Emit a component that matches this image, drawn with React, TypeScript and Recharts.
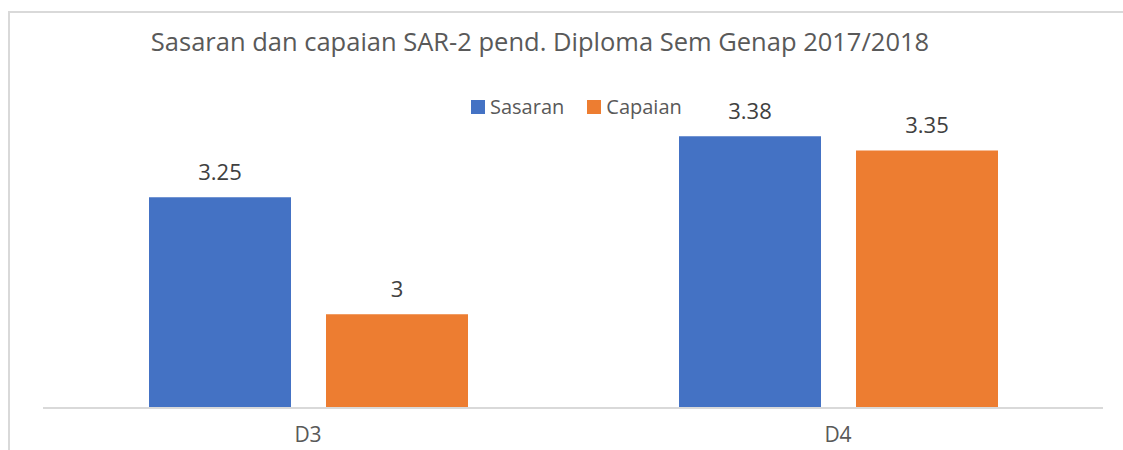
import { BarChart, Bar, XAxis, YAxis, LabelList } from 'recharts'

const categories = ['D3', 'D4']
const sasaran = [3.25, 3.38]
const capaian = [3, 3.35]

const data = categories.map((c, i) => ({ name: c, Sasaran: sasaran[i], Capaian: capaian[i] }))

const FONT = '"Open Sans", sans-serif'

const legendItems = [
  { label: 'Sasaran', color: '#4472C4' },
  { label: 'Capaian', color: '#ED7D31' },
]

export default function App() {
  return (
    <div style={{ position: 'absolute', left: 0, top: 0, width: 1123, height: 450, background: '#fff' }}>
      <div
        style={{
          position: 'absolute',
          left: 8,
          top: 11,
          width: 1115,
          height: 439,
          borderLeft: '2px solid #d9d9d9',
          borderTop: '2px solid #d9d9d9',
        }}
      />
      <div
        style={{
          position: 'absolute',
          left: 0,
          width: 1080,
          top: 24,
          textAlign: 'center',
          fontFamily: FONT,
          fontSize: 25.5,
          color: '#595959',
          whiteSpace: 'nowrap',
        }}
      >
        Sasaran dan capaian SAR-2 pend. Diploma Sem Genap 2017/2018
      </div>
      {/* legend sits above the plot, not inside the chart layout */}
      <div
        style={{
          position: 'absolute',
          left: 471,
          top: 93,
          display: 'flex',
          gap: 23,
          fontFamily: FONT,
          fontSize: 20,
          color: '#595959',
        }}
      >
        {legendItems.map((it) => (
          <div key={it.label} style={{ display: 'flex', alignItems: 'center', gap: 5 }}>
            <span style={{ width: 14, height: 14, background: it.color, display: 'inline-block' }} />
            <span>{it.label}</span>
          </div>
        ))}
      </div>
      <BarChart
        width={1123}
        height={450}
        data={data}
        margin={{ top: 127, right: 20, left: 43, bottom: 12 }}
        barCategoryGap="20%"
        barGap={35}
        style={{ position: 'absolute', left: 0, top: 0 }}
      >
        <XAxis
          dataKey="name"
          axisLine={{ stroke: '#d9d9d9', strokeWidth: 2 }}
          tickLine={false}
          tick={{ fill: '#595959', fontSize: 21, fontFamily: FONT }}
          tickMargin={13}
          height={30}
        />
        <YAxis hide domain={[2.8, 3.4]} />
        <Bar dataKey="Sasaran" fill="#4472C4" isAnimationActive={false}>
          <LabelList dataKey="Sasaran" position="top" offset={17} fill="#404040" fontSize={22} fontFamily={FONT} />
        </Bar>
        <Bar dataKey="Capaian" fill="#ED7D31" isAnimationActive={false}>
          <LabelList dataKey="Capaian" position="top" offset={17} fill="#404040" fontSize={22} fontFamily={FONT} />
        </Bar>
      </BarChart>
    </div>
  )
}
